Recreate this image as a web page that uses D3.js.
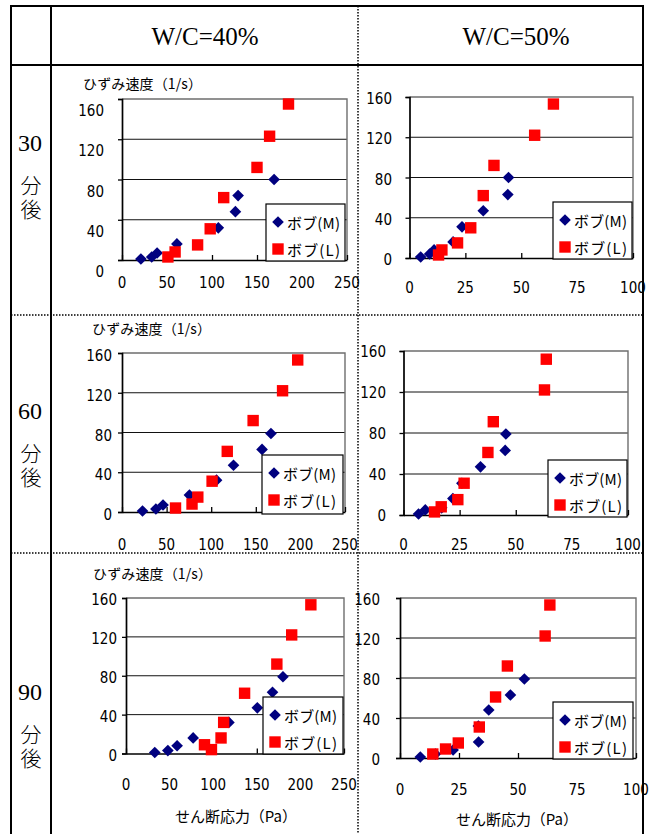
<!DOCTYPE html>
<html>
<head>
<meta charset="utf-8">
<script src="https://cdn.jsdelivr.net/npm/d3@7"></script>
<style>
  html, body { margin: 0; padding: 0; background: #fff; }
  svg { display: block; }
  .num { font-family: "Liberation Sans Narrow", "DejaVu Sans Condensed", "Liberation Sans", Arial, sans-serif; font-size: 15px; fill: #000; }
  .jp { font-family: "Noto Sans CJK JP", "Noto Sans", sans-serif; font-size: 14px; fill: #000; }
  .lg { font-family: "Noto Sans CJK JP", "Noto Sans", sans-serif; font-size: 15px; fill: #000; }
  .hdr { font-family: "Liberation Serif", "Times New Roman", serif; font-size: 25px; fill: #000; }
  .min { font-family: "Liberation Serif", "Times New Roman", serif; font-size: 24px; fill: #000; }
  .side { font-family: "Noto Sans CJK JP", serif; font-size: 21px; font-weight: 300; fill: #000;
          writing-mode: vertical-rl; letter-spacing: 3px; }
</style>
</head>
<body>
<svg id="chart" width="650" height="834"></svg>
<script>
// Column and row headings of the table
const columnTitles = ["W/C=40%", "W/C=50%"];
const rowMinutes = ["30", "60", "90"];
const rowSuffix = "分後";
const seriesNames = ["ボブ(M)", "ボブ(L)"];
const yTitle = "ひずみ速度（1/s）";
const xTitle = "せん断応力（Pa）";

// Tick values
const yTicks = [0, 40, 80, 120, 160];
const xTicks40 = [0, 50, 100, 150, 200, 250];
const xTicks50 = [0, 25, 50, 75, 100];

// Shear stress (Pa), strain rate (1/s) — ボブ(M) and ボブ(L)
const m30w40 = [[21,1],[33,3],[39,7],[61,16],[107,32],[126,48],[129,64],[169,80]];
const l30w40 = [[51,3],[59,8],[84,15],[98,31],[113,62],[150,92],[164,123],[185,155]];
const m30w50 = [[5,1],[9,4],[11,8],[19.5,16],[23.5,31],[33,47],[44,63],[44.3,80]];
const l30w50 = [[13,3],[14.5,8],[21.5,15],[27.4,30],[33,62],[37.8,92],[56,122],[64.4,153]];
const m60w40 = [[23,1],[38,3],[46,7],[75.6,17],[106,32],[125,47],[157,63],[167,79]];
const l60w40 = [[60,4],[78.5,8],[85,15],[101,31],[118,61],[147,92],[180,122],[197,153]];
const m60w50 = [[6.7,1],[9.7,5],[17,7],[22,16],[26,31],[34.3,47],[45.3,63],[45.6,79]];
const l60w50 = [[13.8,3],[16.8,8],[24.2,15],[27,31],[37.6,61],[40,91],[62.8,122],[63.6,152]];
const m90w40 = [[33,1],[48,3],[58.6,8],[77,16],[118,32],[150.6,47],[168,63],[180,79]];
const l90w40 = [[90,9],[98,4],[109,16],[112,32],[136,62],[173,92],[190,122],[212,153]];
const m90w50 = [[8.6,1],[15,4],[22.5,8],[33.3,16],[33.2,32],[37.6,48],[46.8,63],[52.7,79]];
const l90w50 = [[13.9,4],[19.3,9],[24.7,15],[33.6,31],[40.5,61],[45.5,92],[61.5,122],[63.5,153]];

// Panel layout
const panels = [
  { m: m30w40, l: l30w40, xMax: 250, xTicks: xTicks40,
    box: {l:122, r:347, t:99, b:260}, yLabR: 104, yLabDy: 12, xLabY: 283,
    yTitle: {x:83, y:83}, xTitle: null, legend: {x:266, y:204, w:79, h:57} },
  { m: m30w50, l: l30w50, xMax: 100, xTicks: xTicks50,
    box: {l:409.5, r:633, t:97, b:258}, yLabR: 392, yLabDy: 2, xLabY: 288,
    yTitle: null, xTitle: null, legend: {x:553, y:202, w:79, h:57} },
  { m: m60w40, l: l60w40, xMax: 250, xTicks: xTicks40,
    box: {l:122, r:345, t:353, b:512}, yLabR: 112, yLabDy: 3, xLabY: 545,
    yTitle: {x:92, y:328}, xTitle: null, legend: {x:262, y:455, w:81, h:59} },
  { m: m60w50, l: l60w50, xMax: 100, xTicks: xTicks50,
    box: {l:403.5, r:628, t:351, b:515}, yLabR: 386, yLabDy: 1, xLabY: 545,
    yTitle: null, xTitle: null, legend: {x:548, y:460, w:79, h:57} },
  { m: m90w40, l: l90w40, xMax: 250, xTicks: xTicks40,
    box: {l:126, r:344, t:598, b:753.5}, yLabR: 117, yLabDy: 2, xLabY: 785,
    yTitle: {x:93, y:573}, xTitle: {x:236, y:815}, legend: {x:263, y:697, w:80, h:57} },
  { m: m90w50, l: l90w50, xMax: 100, xTicks: xTicks50,
    box: {l:400, r:636, t:598, b:758}, yLabR: 380, yLabDy: 2, xLabY: 790,
    yTitle: null, xTitle: {x:517, y:818}, legend: {x:553, y:702, w:80, h:57} }
];

const svg = d3.select("#chart");
const navy = "#00007f", red = "#ff0000";
const diamond = d3.symbol().type(d3.symbolSquare).size(68);
const square = d3.symbol().type(d3.symbolSquare).size(130);

function drawMarker(g, kind, x, y) {
  if (kind === 0) {
    g.append("path").attr("d", diamond())
      .attr("transform", `translate(${x},${y}) rotate(45)`).attr("fill", navy);
  } else {
    g.append("path").attr("d", square())
      .attr("transform", `translate(${x},${y})`).attr("fill", red);
  }
}

panels.forEach(p => {
  const g = svg.append("g");
  const x = d3.scaleLinear().domain([0, p.xMax]).range([p.box.l, p.box.r]);
  const y = d3.scaleLinear().domain([0, 160]).range([p.box.b, p.box.t]);

  // gridlines
  g.selectAll(".grid").data(yTicks.slice(1, -1)).join("line")
    .attr("x1", p.box.l).attr("x2", p.box.r)
    .attr("y1", d => y(d)).attr("y2", d => y(d))
    .attr("stroke", "#111").attr("stroke-width", 1);

  // plot frame: grey top/right, black axes
  g.append("path")
    .attr("d", `M${p.box.l},${y(160)}H${p.box.r}V${y(0)}`)
    .attr("fill", "none").attr("stroke", "#6e6e6e").attr("stroke-width", 1.4);

  const yAxis = d3.axisLeft(y).tickValues(yTicks).tickSize(4).tickFormat("");
  g.append("g").attr("transform", `translate(${p.box.l},0)`).call(yAxis)
    .call(a => a.select(".domain").attr("stroke", "#000").attr("stroke-width", 1.7))
    .call(a => a.selectAll(".tick line").attr("stroke", "#000").attr("stroke-width", 1.3));

  const xAxis = d3.axisTop(x).tickValues(p.xTicks).tickSize(5).tickSizeOuter(0).tickFormat("");
  g.append("g").attr("transform", `translate(0,${y(0)})`).call(xAxis)
    .call(a => a.select(".domain").attr("stroke", "#000").attr("stroke-width", 1.7))
    .call(a => a.selectAll(".tick line").attr("stroke", "#000").attr("stroke-width", 1.3));

  // tick labels
  g.selectAll(".ylab").data(yTicks).join("text").attr("class", "num")
    .attr("x", p.yLabR).attr("y", d => y(d) + p.yLabDy)
    .attr("text-anchor", "end").attr("dominant-baseline", "central").text(d => d);
  g.selectAll(".xlab").data(p.xTicks).join("text").attr("class", "num")
    .attr("x", d => x(d)).attr("y", p.xLabY)
    .attr("text-anchor", "middle").attr("dominant-baseline", "central").text(d => d);

  if (p.yTitle) {
    g.append("text").attr("class", "jp").attr("x", p.yTitle.x).attr("y", p.yTitle.y)
      .attr("textLength", 119).attr("lengthAdjust", "spacing")
      .attr("dominant-baseline", "central").text(yTitle);
  }
  if (p.xTitle) {
    g.append("text").attr("class", "jp").style("font-size", "15px")
      .attr("x", p.xTitle.x).attr("y", p.xTitle.y)
      .attr("textLength", 122).attr("lengthAdjust", "spacing")
      .attr("text-anchor", "middle").attr("dominant-baseline", "central").text(xTitle);
  }

  // points
  p.m.forEach(d => drawMarker(g, 0, x(d[0]), y(d[1])));
  p.l.forEach(d => drawMarker(g, 1, x(d[0]), y(d[1])));

  // legend
  const L = p.legend;
  g.append("rect").attr("x", L.x).attr("y", L.y).attr("width", L.w).attr("height", L.h)
    .attr("fill", "#fff").attr("stroke", "#000").attr("stroke-width", 1.2);
  seriesNames.forEach((name, i) => {
    const cy = L.y + 18 + i * 27;
    drawMarker(g, i, L.x + 12, cy);
    g.append("text").attr("class", "lg").attr("x", L.x + 21).attr("y", cy)
      .attr("textLength", 53).attr("lengthAdjust", "spacing")
      .attr("dominant-baseline", "central").text(name);
  });
});

// table frame
const T = { l: 11, c: 51, mid: 358, r: 643, t: 6, h: 65, r1: 315, r2: 553, b: 834 };
const frame = svg.append("g").attr("stroke", "#000").attr("fill", "none");
frame.append("line").attr("x1", T.l).attr("x2", T.r).attr("y1", T.t).attr("y2", T.t).attr("stroke-width", 2);
frame.append("line").attr("x1", T.l).attr("x2", T.r).attr("y1", T.h).attr("y2", T.h).attr("stroke-width", 2.2);
[T.l, T.c, T.r].forEach(xv => frame.append("line")
  .attr("x1", xv).attr("x2", xv).attr("y1", T.t - 1).attr("y2", T.b).attr("stroke-width", 2));
frame.append("line").attr("x1", T.mid).attr("x2", T.mid).attr("y1", T.t).attr("y2", T.b)
  .attr("stroke-width", 1.5).attr("stroke-dasharray", "1.5,1.5");
[T.r1, T.r2].forEach(yv => frame.append("line")
  .attr("x1", T.l).attr("x2", T.r).attr("y1", yv).attr("y2", yv)
  .attr("stroke-width", 1.5).attr("stroke-dasharray", "1.5,1.5"));

// headings
svg.selectAll(".hdr").data(columnTitles).join("text").attr("class", "hdr")
  .attr("x", (d, i) => i === 0 ? 205 : 516).attr("y", 36)
  .attr("text-anchor", "middle").attr("dominant-baseline", "central").text(d => d);

const rowY = [143, 411, 692];
rowMinutes.forEach((m, i) => {
  svg.append("text").attr("class", "min").attr("x", 30).attr("y", rowY[i])
    .attr("text-anchor", "middle").attr("dominant-baseline", "central").text(m);
  svg.append("text").attr("class", "side").attr("x", 31).attr("y", rowY[i] + 56)
    .attr("text-anchor", "middle").text(rowSuffix);
});
</script>
</body>
</html>
